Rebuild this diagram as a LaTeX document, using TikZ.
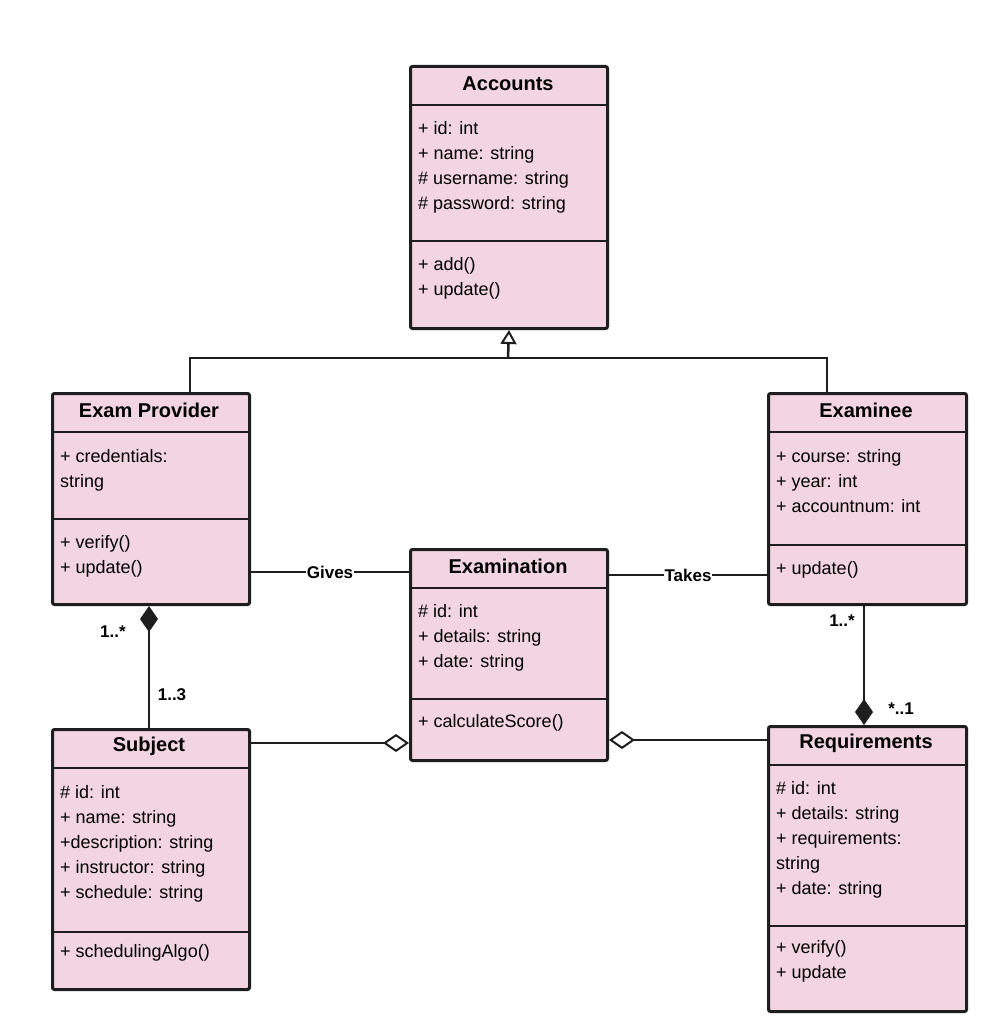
\documentclass[tikz,border=0pt]{standalone}
\usepackage{fontspec}
\setmainfont{Liberation Sans}
\usepackage{xcolor}
\usetikzlibrary{arrows.meta,positioning}
\definecolor{clspink}{HTML}{F2D5E0}
\definecolor{clsline}{HTML}{1E1E1E}
\tikzset{
  cls/.style={draw=clsline,fill=clspink,line width=3pt,rounded corners=2pt,inner sep=0pt},
  sep/.style={draw=clsline,line width=2.5pt},
  ttl/.style={font=\fontsize{20}{24}\selectfont\bfseries},
  txt/.style={anchor=north west,align=left,inner sep=0pt,font=\fontsize{18}{25}\selectfont},
  con/.style={draw=clsline,line width=2.5pt},
  lbl/.style={font=\fontsize{17}{20}\selectfont\bfseries,inner sep=1pt},
}
\begin{document}
\begin{tikzpicture}[x=1pt,y=-1pt]
      \useasboundingbox[fill=white] (0,0) rectangle (985,1024);
      % classes
      \node[cls,minimum width=197,minimum height=262,anchor=north west] (acc)  at (409,65)  {};
      \node[cls,minimum width=197,minimum height=211,anchor=north west] (prov) at (51,392)  {};
      \node[cls,minimum width=198,minimum height=211,anchor=north west] (exe)  at (767,392) {};
      \node[cls,minimum width=197,minimum height=211,anchor=north west] (exam) at (409,548) {};
      \node[cls,minimum width=197,minimum height=260,anchor=north west] (subj) at (51,728)  {};
      \node[cls,minimum width=198,minimum height=285,anchor=north west] (req)  at (767,725) {};
      % dividers
      \draw[sep] (409,105) -- (606,105);
      \draw[sep] (409,241) -- (606,241);
      \draw[sep] (51,432) -- (248,432);
      \draw[sep] (51,519) -- (248,519);
      \draw[sep] (767,432) -- (965,432);
      \draw[sep] (767,545) -- (965,545);
      \draw[sep] (409,588) -- (606,588);
      \draw[sep] (409,699) -- (606,699);
      \draw[sep] (51,768) -- (248,768);
      \draw[sep] (51,932) -- (248,932);
      \draw[sep] (767,765) -- (965,765);
      \draw[sep] (767,926) -- (965,926);
      % titles
      \node[ttl] (accT)  at (508,84)  {Accounts};
      \node[ttl] (provT) at (149,410) {Exam Provider};
      \node[ttl] (exeT)  at (866,410) {Examinee};
      \node[ttl] (examT) at (508,566) {Examination};
      \node[ttl] (subjT) at (149,746) {Subject};
      \node[ttl] (reqT)  at (866,743) {Requirements};
      % members
      \node[txt] (accA)  at (418,121) {+ id: int\\+ name: string\\\# username: string\\\# password: string};
      \node[txt] (accO)  at (418,257) {+ add()\\+ update()};
      \node[txt] (provA) at (60,449)  {+ credentials:\\string};
      \node[txt] (provO) at (60,535)  {+ verify()\\+ update()};
      \node[txt] (exeA)  at (776,449) {+ course: string\\+ year: int\\+ accountnum: int};
      \node[txt] (exeO)  at (776,561) {+ update()};
      \node[txt] (examA) at (418,604) {\# id: int\\+ details: string\\+ date: string};
      \node[txt] (examO) at (418,714) {+ calculateScore()};
      \node[txt] (subjA) at (60,785)  {\# id: int\\+ name: string\\+description: string\\+ instructor: string\\+ schedule: string};
      \node[txt] (subjO) at (60,944)  {+ schedulingAlgo()};
      \node[txt] (reqA)  at (776,781) {\# id: int\\+ details: string\\+ requirements:\\string\\+ date: string};
      \node[txt] (reqO)  at (776,940) {+ verify()\\+ update};
      % inheritance
      \coordinate (provUp) at (190,392);
      \coordinate (exeUp)  at (827,392);
      \coordinate (bar)    at (508,358);
      \draw[con] (provUp) |- (exeUp |- bar) -- (exeUp);
      \draw[con,-{Triangle[open,length=14pt,width=16pt,line width=2pt]}] (bar) -- (acc.south);
      % associations
      \draw[con] (prov.east |- 0,572) -- node[lbl,fill=white] (gives) {Gives} (exam.west |- 0,572);
      \draw[con] (exam.east |- 0,575) -- node[lbl,fill=white] (takes) {Takes} (exe.west |- 0,575);
      % compositions
      \draw[con,{Diamond[length=26pt,width=18pt]}-] (prov.south -| 149,0) -- (subj.north -| 149,0);
      \draw[con,-{Diamond[length=26pt,width=18pt]}] (exe.south -| 864,0) -- (req.north -| 864,0);
      \node[lbl] (m1) at (113,632) {1..*};
      \node[lbl] (m2) at (172,695) {1..3};
      \node[lbl] (m3) at (842,621) {1..*};
      \node[lbl] (m4) at (901,709) {*..1};
      % aggregations
      \draw[con,-{Diamond[open,length=26pt,width=18pt,line width=2pt]}] (subj.east |- 0,743) -- (exam.west |- 0,743);
      \draw[con,-{Diamond[open,length=26pt,width=18pt,line width=2pt]}] (req.west |- 0,740) -- (exam.east |- 0,740);
\end{tikzpicture}
\end{document}
